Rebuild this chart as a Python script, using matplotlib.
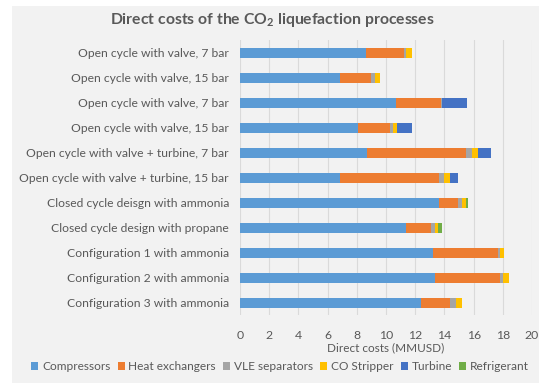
import matplotlib
matplotlib.use("Agg")
import matplotlib.pyplot as plt
from matplotlib.patches import Rectangle, Patch
import numpy as np

plt.rcParams['font.family'] = ['Lato', 'DejaVu Sans']
plt.rcParams['mathtext.fontset'] = 'custom'
plt.rcParams['mathtext.rm'] = 'Lato:bold'
plt.rcParams['mathtext.bf'] = 'Lato:bold'

processes = [
    'Open cycle with valve, 7 bar',
    'Open cycle with valve, 15 bar',
    'Open cycle with valve, 7 bar',
    'Open cycle with valve, 15 bar',
    'Open cycle with valve + turbine, 7 bar',
    'Open cycle with valve + turbine, 15 bar',
    'Closed cycle deisgn with ammonia',
    'Closed cycle design with propane',
    'Configuration 1 with ammonia',
    'Configuration 2 with ammonia',
    'Configuration 3 with ammonia',
]

# direct costs in MMUSD
compressors = [8.6, 6.85, 10.7, 8.05, 8.7, 6.85, 13.6, 11.35, 13.25, 13.35, 12.4]
heat_exchangers = [2.65, 2.1, 3.05, 2.2, 6.8, 6.75, 1.35, 1.75, 4.45, 4.45, 2.0]
vle_separators = [0.15, 0.3, 0.1, 0.25, 0.4, 0.4, 0.25, 0.25, 0.1, 0.2, 0.4]
co_stripper = [0.4, 0.35, 0.0, 0.25, 0.4, 0.4, 0.25, 0.2, 0.3, 0.4, 0.4]
turbine = [0, 0, 1.7, 1.0, 0.9, 0.55, 0, 0, 0, 0, 0]
refrigerant = [0, 0, 0, 0, 0, 0, 0.15, 0.3, 0, 0, 0]

series = [
    ('Compressors', compressors, '#5B9BD5'),
    ('Heat exchangers', heat_exchangers, '#ED7D31'),
    ('VLE separators', vle_separators, '#A5A5A5'),
    ('CO Stripper', co_stripper, '#FFC000'),
    ('Turbine', turbine, '#4472C4'),
    ('Refrigerant', refrigerant, '#70AD47'),
]

txt = '#595959'
bg = '#f2f2f2'

fig = plt.figure(figsize=(5.39, 3.83), dpi=100, facecolor='white')
# grey chart area, leaving a thin white margin at the top and left
fig.patches.append(Rectangle((12 / 539, 0), 1, 1 - 6 / 383, transform=fig.transFigure,
                             facecolor=bg, edgecolor='none', zorder=-10))

ax = fig.add_axes([240 / 539, 68 / 383, 292 / 539, 275 / 383])
ax.set_facecolor(bg)

y = np.arange(len(processes))
left = np.zeros(len(processes))
for name, vals, col in series:
    ax.barh(y, vals, left=left, height=0.4, color=col, label=name, zorder=2)
    left += np.array(vals)

ax.set_ylim(len(processes) - 0.5, -0.5)
ax.set_yticks(y)
ax.set_yticklabels(processes, fontsize=8.7, color=txt)
ax.set_xlim(0, 20)
ax.set_xticks(range(0, 21, 2))
ax.tick_params(axis='x', length=0, pad=11, labelsize=8.8, labelcolor=txt)
ax.tick_params(axis='y', length=0, pad=8)
ax.grid(axis='x', color='#dadada', linewidth=0.8, zorder=0)
for s in ax.spines.values():
    s.set_visible(False)
ax.set_xlabel('Direct costs (MMUSD)', fontsize=8.5, color=txt, labelpad=1)

fig.text(272 / 539, 1 - 20 / 383, 'Direct costs of the CO$_2$ liquefaction processes',
         ha='center', va='center', fontsize=11.3, fontweight='bold', color=txt)

handles = [Patch(facecolor=c, edgecolor='none') for _, _, c in series]
fig.legend(handles, [n for n, _, _ in series], loc='center', ncol=6,
           bbox_to_anchor=(280 / 539, 1 - 367 / 383), frameon=False, fontsize=8.6,
           labelcolor=txt, handlelength=0.6, handleheight=0.6, handletextpad=0.3,
           columnspacing=0.6)

fig.savefig('out.png', dpi=100, facecolor='white')
